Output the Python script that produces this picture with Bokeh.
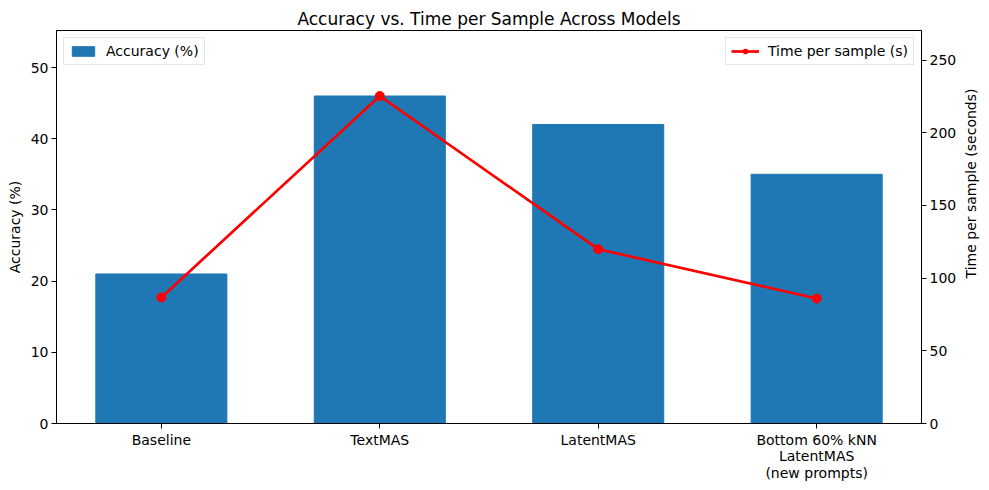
import math
from bokeh.plotting import figure
from bokeh.models import Range1d, LinearAxis, FixedTicker, Legend, LegendItem, ColumnDataSource, Label
from bokeh.embed import file_html
from bokeh.resources import INLINE

models = ["Baseline", "TextMAS", "LatentMAS", "Bottom 60% kNN\nLatentMAS\n(new prompts)"]
accuracy = [21, 46, 42, 35]
time_per_sample = [86.7, 225.3, 119.9, 86.0]
acc_ticks = [0, 10, 20, 30, 40, 50]
time_ticks = [0, 50, 100, 150, 200, 250]

xs = list(range(len(models)))
FONT = "DejaVu Sans"
FRAME_W, FRAME_H = 865, 393
X_LO, X_HI = -0.48, len(models) - 1 + 0.48
Y_HI = max(accuracy) * 1.2

p = figure(frame_width=FRAME_W, frame_height=FRAME_H, output_backend="svg", toolbar_location=None,
           x_range=Range1d(X_LO, X_HI),
           y_range=Range1d(0, Y_HI),
           min_border_left=56, min_border_right=59, min_border_top=30, min_border_bottom=58,
           title="Accuracy vs. Time per Sample Across Models")
p.title.align = "center"
p.title.text_font = FONT
p.title.text_font_size = "17px"
p.title.text_font_style = "normal"
p.title.text_color = "black"
p.title.standoff = 4
p.extra_y_ranges = {"time": Range1d(0, max(time_per_sample) * 1.2)}

src = ColumnDataSource(dict(x=xs, acc=accuracy, t=time_per_sample))
bars = p.vbar(x="x", top="acc", width=0.6, color="#1f77b4", source=src)
ln = p.line(x="x", y="t", line_color="red", line_width=2.7, y_range_name="time", source=src)
pts = p.scatter(x="x", y="t", size=9, color="red", y_range_name="time", source=src)

p.xgrid.visible = False
p.ygrid.visible = False
p.outline_line_color = "black"
p.outline_line_width = 1

p.xaxis.ticker = FixedTicker(ticks=xs)
p.xaxis.major_label_overrides = {i: m for i, m in enumerate(models)}
p.yaxis.ticker = FixedTicker(ticks=acc_ticks)
p.yaxis.axis_label = "Accuracy (%)"

raxis = LinearAxis(y_range_name="time", ticker=FixedTicker(ticks=time_ticks))
p.add_layout(raxis, "right")

# right-axis title, reading bottom-to-top like matplotlib's twin axis label
rlabel = Label(x=11, y=240, x_units="screen", y_units="screen",
               text="Time per sample (seconds)",
               angle=math.pi / 2, text_align="center", text_baseline="middle",
               text_font=FONT, text_font_size="14px", text_color="black")
p.add_layout(rlabel, "right")

for ax in [p.xaxis[0], p.yaxis[0], raxis]:
    ax.major_label_text_font = FONT
    ax.major_label_text_font_size = "14px"
    ax.major_label_text_color = "black"
    ax.major_label_text_line_height = 1.05
    ax.axis_label_text_font = FONT
    ax.axis_label_text_font_size = "14px"
    ax.axis_label_text_font_style = "normal"
    ax.axis_label_text_color = "black"
    ax.major_tick_out = 5
    ax.major_tick_in = 0
    ax.major_tick_line_color = "black"
    ax.minor_tick_line_color = None
    ax.axis_line_color = "black"
    ax.major_label_standoff = 3

leg1 = Legend(items=[LegendItem(label="Accuracy (%)", renderers=[bars])], location="top_left")
leg2 = Legend(items=[LegendItem(label="Time per sample (s)", renderers=[ln, pts])], location="top_right")
for lg in [leg1, leg2]:
    lg.label_text_font = FONT
    lg.label_text_font_size = "14px"
    lg.label_text_color = "black"
    lg.border_line_color = "#cccccc"
    lg.border_line_width = 1
    lg.background_fill_alpha = 0.8
    lg.margin = 7
    lg.padding = 5
    lg.glyph_width = 28
    lg.glyph_height = 12
    lg.label_standoff = 9
    lg.label_height = 14
    p.add_layout(lg)

open("out.html", "w").write(file_html(p, INLINE))
